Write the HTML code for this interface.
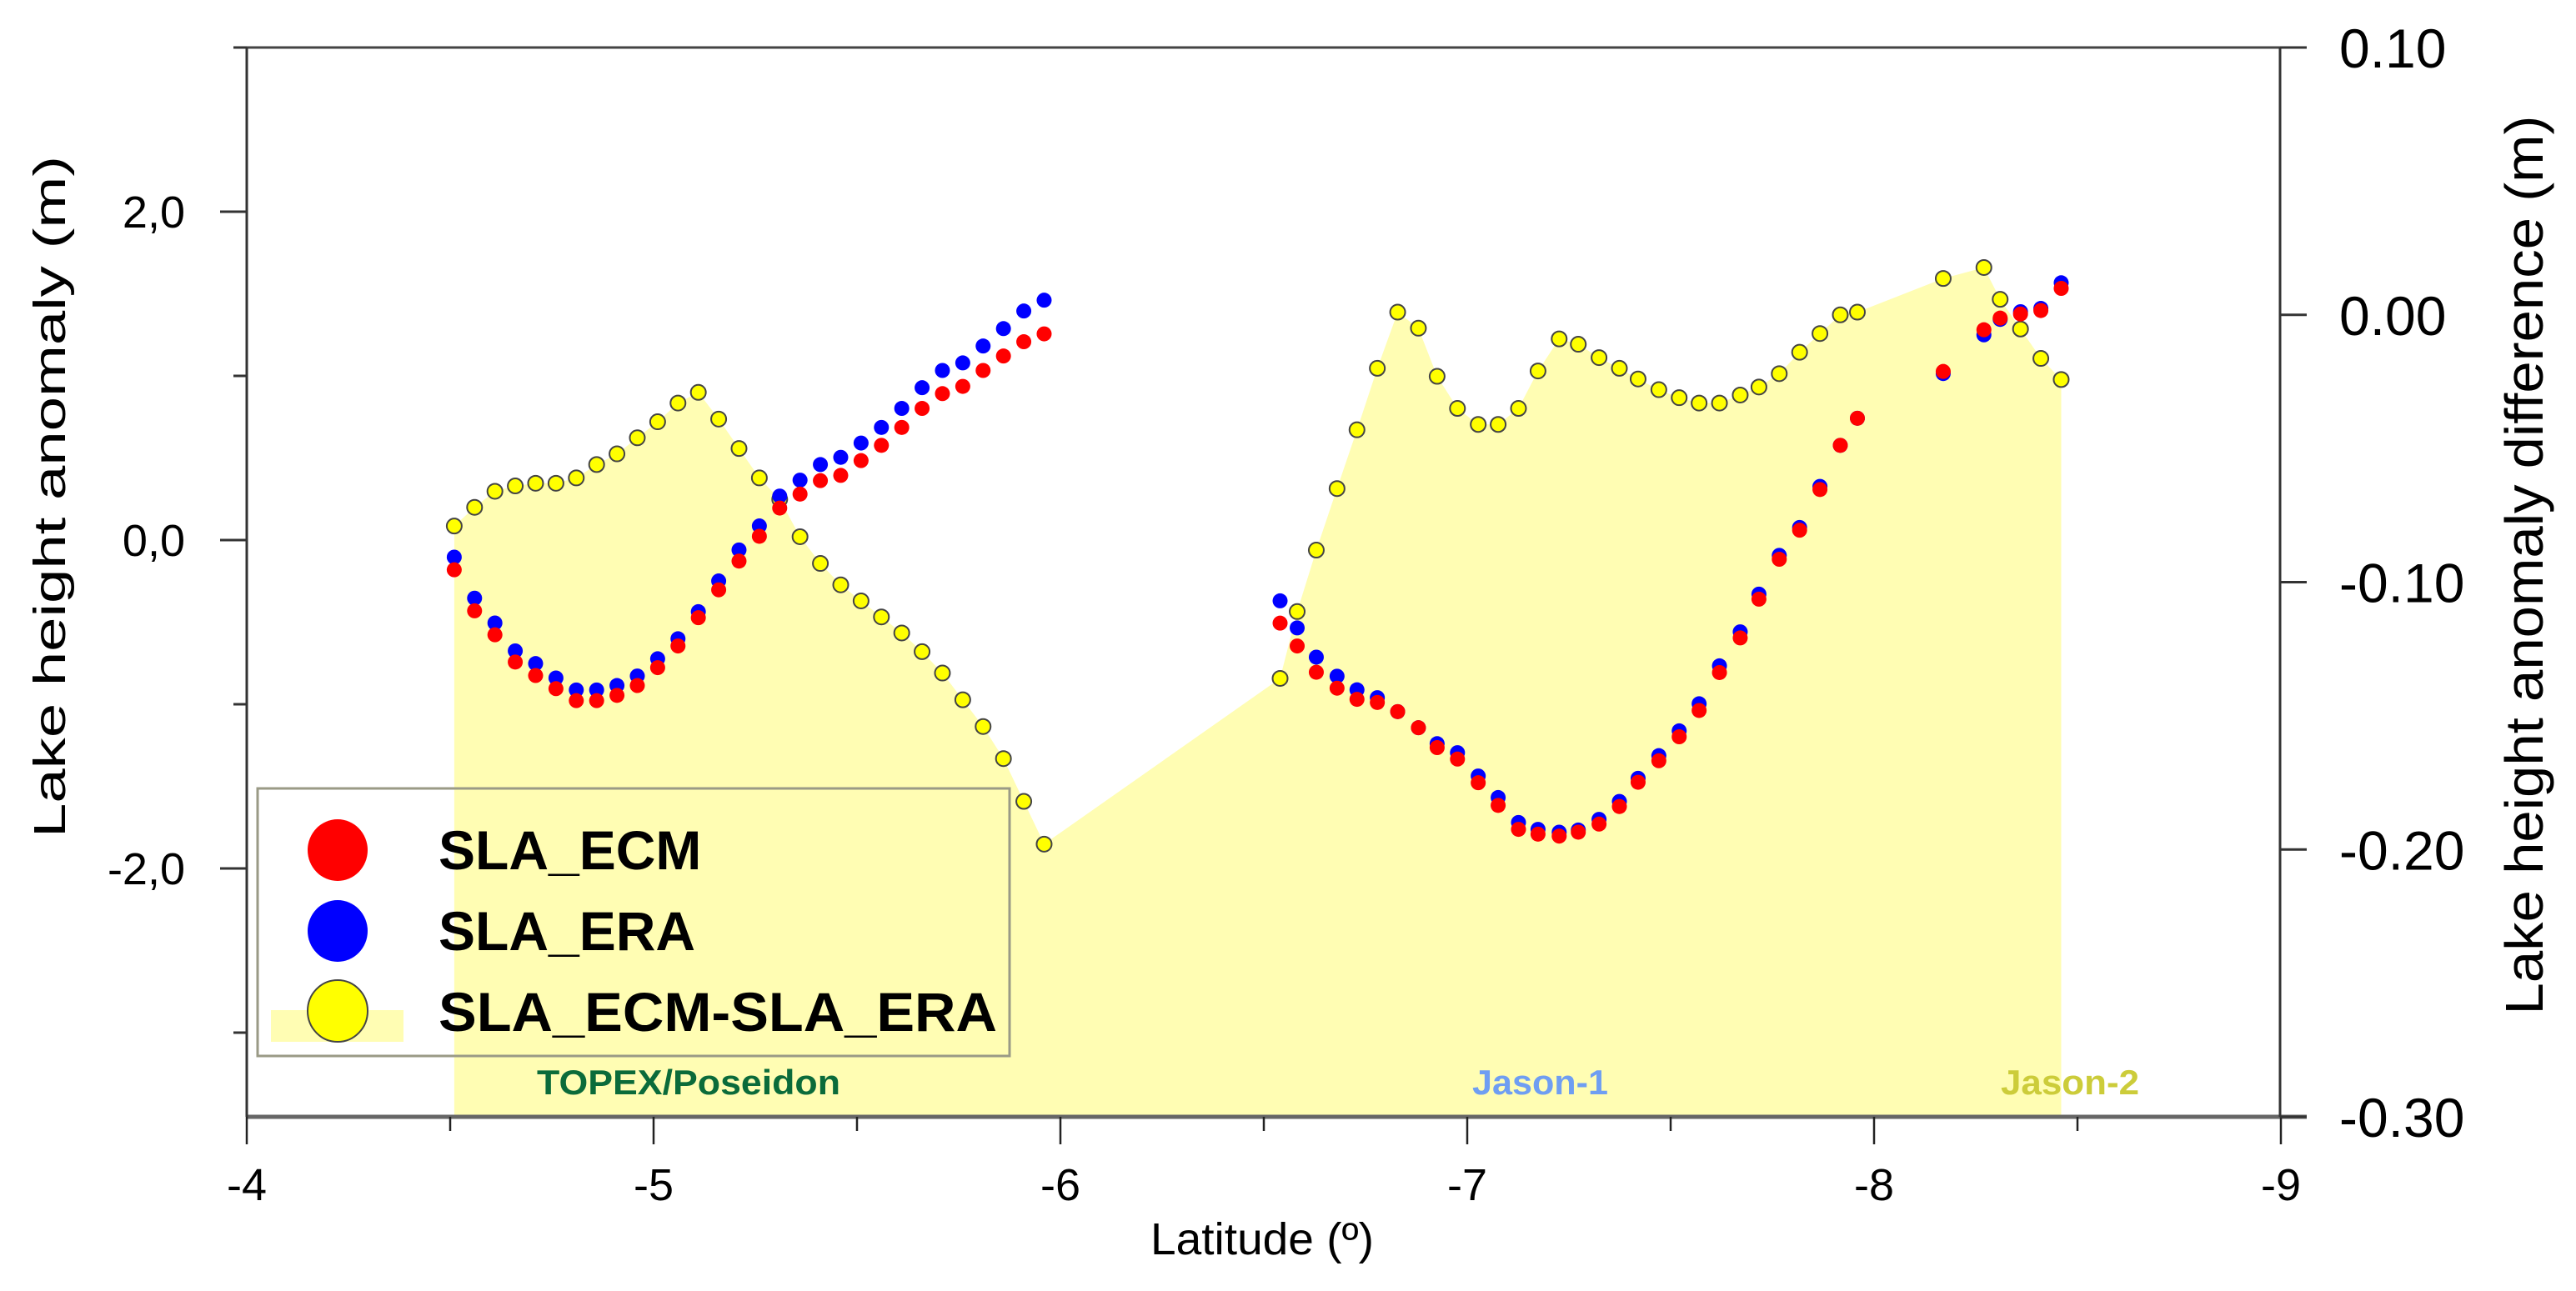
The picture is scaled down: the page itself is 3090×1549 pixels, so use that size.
<!DOCTYPE html>
<html><head><meta charset="utf-8">
<style>
html,body{margin:0;padding:0;background:#fff;}
svg{display:block;}
text{font-family:"Liberation Sans",Arial,sans-serif;}
</style></head>
<body>
<svg id="chart" width="3090" height="1549" viewBox="0 0 3090 1549" xmlns="http://www.w3.org/2000/svg">
  <g id="fill-layer"></g>
  <g id="axes"></g>
  <g id="points"></g>
  <g id="labels"></g>
</svg>
<script>
const lat = [-4.51,-4.56,-4.61,-4.66,-4.71,-4.76,-4.81,-4.86,-4.91,-4.96,-5.01,-5.06,-5.11,-5.16,-5.21,-5.26,-5.31,-5.36,-5.41,-5.46,-5.51,-5.56,-5.61,-5.66,-5.71,-5.76,-5.81,-5.86,-5.91,-5.96,
 -6.540,-6.582,-6.629,-6.680,-6.729,-6.779,-6.829,-6.880,-6.926,-6.976,-7.027,-7.076,-7.126,-7.174,-7.226,-7.273,-7.324,-7.374,-7.420,-7.471,-7.521,-7.570,-7.620,-7.671,-7.717,-7.767,-7.817,-7.867,-7.917,-7.959,
 -8.17,-8.27,-8.31,-8.36,-8.41,-8.46];
const slaEcm = [-0.181,-0.431,-0.577,-0.743,-0.825,-0.905,-0.978,-0.978,-0.946,-0.886,-0.777,-0.645,-0.473,-0.303,-0.128,0.023,0.195,0.280,0.362,0.394,0.484,0.577,0.686,0.802,0.892,0.936,1.033,1.121,1.208,1.256,
 -0.506,-0.645,-0.805,-0.902,-0.970,-0.989,-1.045,-1.143,-1.264,-1.334,-1.478,-1.616,-1.762,-1.791,-1.803,-1.779,-1.730,-1.623,-1.475,-1.344,-1.198,-1.038,-0.807,-0.596,-0.360,-0.117,0.060,0.308,0.577,0.742,
 1.027,1.281,1.352,1.377,1.398,1.533];
const slaEra = [-0.104,-0.354,-0.505,-0.675,-0.752,-0.840,-0.913,-0.913,-0.886,-0.828,-0.723,-0.601,-0.436,-0.249,-0.060,0.086,0.268,0.365,0.460,0.504,0.591,0.686,0.802,0.928,1.033,1.079,1.182,1.288,1.395,1.461,
 -0.370,-0.535,-0.713,-0.829,-0.912,-0.960,-1.045,-1.143,-1.240,-1.295,-1.437,-1.568,-1.720,-1.762,-1.779,-1.766,-1.701,-1.592,-1.451,-1.313,-1.162,-0.997,-0.766,-0.559,-0.329,-0.093,0.077,0.327,0.577,0.742,
 1.014,1.250,1.344,1.391,1.411,1.567];
const slaDiff = [-0.079,-0.072,-0.066,-0.064,-0.063,-0.063,-0.061,-0.056,-0.052,-0.046,-0.040,-0.033,-0.029,-0.039,-0.050,-0.061,-0.069,-0.083,-0.093,-0.101,-0.107,-0.113,-0.119,-0.126,-0.134,-0.144,-0.154,-0.166,-0.182,-0.198,
 -0.136,-0.111,-0.088,-0.065,-0.043,-0.020,0.001,-0.005,-0.023,-0.035,-0.041,-0.041,-0.035,-0.021,-0.009,-0.011,-0.016,-0.020,-0.024,-0.028,-0.031,-0.033,-0.033,-0.030,-0.027,-0.022,-0.014,-0.007,0.000,0.001,
 0.0136,0.0177,0.0058,-0.0053,-0.0163,-0.0242];
const xTicks = [-4,-5,-6,-7,-8,-9];
const xTickLabels = ["-4","-5","-6","-7","-8","-9"];
const yLeftTicks = [2,0,-2];
const yLeftTickLabels = ["2,0","0,0","-2,0"];
const yLeftMinor = [3,1,-1,-3];
const yRightTicks = [0.10,0.00,-0.10,-0.20,-0.30];
const yRightTickLabels = ["0.10","0.00","-0.10","-0.20","-0.30"];

const NS = "http://www.w3.org/2000/svg";
const L = 296, R = 2735, T = 57, B = 1340;
function xs(v){ return L + (-4 - v) * 488; }
function yl(v){ return 648 - v * 197; }
function yr(v){ return T + (0.10 - v) / 0.40 * (B - T); }
function mk(tag, attrs, parent){ const e = document.createElementNS(NS, tag); for (const k in attrs) e.setAttribute(k, attrs[k]); parent.appendChild(e); return e; }

const fillG = document.getElementById('fill-layer');
const axG = document.getElementById('axes');
const ptG = document.getElementById('points');
const lbG = document.getElementById('labels');

// area
let d = `M${xs(lat[0])},${B}`;
for (let i = 0; i < lat.length; i++) d += ` L${xs(lat[i]).toFixed(1)},${yr(slaDiff[i]).toFixed(1)}`;
d += ` L${xs(lat[lat.length-1])},${B} Z`;
const area = mk('path', {d: d, fill: '#fffdb3', stroke: 'none'}, fillG);



// frame
let e;
e = mk('line', {x1: 280, y1: T, x2: 2767, y2: T, stroke: '#444', 'stroke-width': 3}, axG);
 
e = mk('line', {x1: L, y1: B, x2: 2767, y2: B, stroke: '#666', 'stroke-width': 5}, axG);
 
e = mk('line', {x1: L, y1: T, x2: L, y2: B, stroke: '#333', 'stroke-width': 3}, axG);
 
e = mk('line', {x1: R, y1: T, x2: R, y2: B, stroke: '#333', 'stroke-width': 3}, axG);
 

// x ticks
for (let i = 0; i < xTicks.length; i++) {
  const x = xs(xTicks[i]);
  e = mk('line', {x1: x, y1: B, x2: x, y2: 1373, stroke: '#222', 'stroke-width': 2.5}, axG);
   
  const t = mk('text', {x: x, y: 1440, 'font-size': 54, 'text-anchor': 'middle', fill: '#000'}, axG);
  t.textContent = xTickLabels[i];
   
  if (i < xTicks.length - 1) {
    const xm = xs(xTicks[i] - 0.5);
    e = mk('line', {x1: xm, y1: B, x2: xm, y2: 1357, stroke: '#222', 'stroke-width': 2.5}, axG);
     
  }
}
// left ticks
for (let i = 0; i < yLeftTicks.length; i++) {
  const y = yl(yLeftTicks[i]);
  e = mk('line', {x1: 264, y1: y, x2: L, y2: y, stroke: '#333', 'stroke-width': 3}, axG);
   
  const t = mk('text', {x: 222, y: y + 19, 'font-size': 54, 'text-anchor': 'end', fill: '#000'}, axG);
  t.textContent = yLeftTickLabels[i];
   
}
for (const v of yLeftMinor) {
  const y = yl(v);
  if (y < T || y > B) continue;
  e = mk('line', {x1: 280, y1: y, x2: L, y2: y, stroke: '#333', 'stroke-width': 3}, axG);
   
}
// right ticks
for (let i = 0; i < yRightTicks.length; i++) {
  const y = yr(yRightTicks[i]);
  e = mk('line', {x1: R, y1: y, x2: 2767, y2: y, stroke: '#333', 'stroke-width': 3}, axG);
   
  const t = mk('text', {x: 2806, y: y + 24, 'font-size': 66, fill: '#000'}, axG);
  t.textContent = yRightTickLabels[i];
   
}

// points
for (let i = 0; i < lat.length; i++) {
  const c = mk('circle', {cx: xs(lat[i]), cy: yr(slaDiff[i]), r: 9, fill: '#ffff00', stroke: '#444', 'stroke-width': 2}, ptG);
   
}
for (let i = 0; i < lat.length; i++) {
  const c = mk('circle', {cx: xs(lat[i]), cy: yl(slaEra[i]), r: 9, fill: '#0000ff'}, ptG);
   
}
for (let i = 0; i < lat.length; i++) {
  const c = mk('circle', {cx: xs(lat[i]), cy: yl(slaEcm[i]), r: 9, fill: '#ff0000'}, ptG);
   
}
</script>
<svg style="position:absolute;left:0;top:0" width="3090" height="1549" viewBox="0 0 3090 1549" xmlns="http://www.w3.org/2000/svg">
  <text x="1380" y="1505" font-size="54" textLength="268" lengthAdjust="spacingAndGlyphs" font-family="Liberation Sans, sans-serif">Latitude (º)</text>
  <text transform="translate(78,596) rotate(-90)" x="0" y="0" font-size="54" text-anchor="middle" textLength="818" lengthAdjust="spacingAndGlyphs" font-family="Liberation Sans, sans-serif">Lake height anomaly (m)</text>
  <text transform="translate(3050,678) rotate(-90)" x="0" y="0" font-size="64" text-anchor="middle" textLength="1079" lengthAdjust="spacingAndGlyphs" font-family="Liberation Sans, sans-serif">Lake height anomaly difference (m)</text>
  <text x="644" y="1313" font-size="42" font-weight="bold" fill="#0b6b3a" textLength="364" lengthAdjust="spacingAndGlyphs" font-family="Liberation Sans, sans-serif">TOPEX/Poseidon</text>
  <text x="1766" y="1313" font-size="42" font-weight="bold" fill="#6f9ef2" textLength="163" lengthAdjust="spacingAndGlyphs" font-family="Liberation Sans, sans-serif">Jason-1</text>
  <text x="2400" y="1313" font-size="42" font-weight="bold" fill="#cccc3a" textLength="166" lengthAdjust="spacingAndGlyphs" font-family="Liberation Sans, sans-serif">Jason-2</text>
  <g>
    <rect x="309" y="946" width="902" height="321" fill="none" stroke="#9a9a86" stroke-width="3"/>
    <ellipse cx="405" cy="1020" rx="36" ry="37" fill="#ff0000"/>
    <text x="526" y="1043" font-size="66" font-weight="bold" font-family="Liberation Sans, sans-serif">SLA_ECM</text>
    <ellipse cx="405" cy="1117" rx="36" ry="37" fill="#0000ff"/>
    <text x="526" y="1140" font-size="66" font-weight="bold" font-family="Liberation Sans, sans-serif">SLA_ERA</text>
    <rect x="325" y="1212" width="159" height="38" fill="#fffdb3"/>
    <ellipse cx="405" cy="1213" rx="36" ry="37" fill="#ffff00" stroke="#444" stroke-width="2"/>
    <text x="526" y="1237" font-size="66" font-weight="bold" font-family="Liberation Sans, sans-serif" textLength="670" lengthAdjust="spacingAndGlyphs">SLA_ECM-SLA_ERA</text>
  </g>
</svg>
</body></html>
